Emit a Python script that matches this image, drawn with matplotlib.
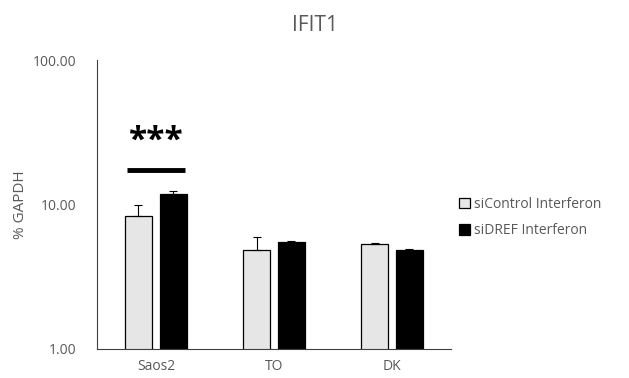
import numpy as np
import matplotlib.pyplot as plt

categories = ["Saos2", "TO", "DK"]
series = ["siControl Interferon", "siDREF Interferon"]
ctrl_vals = [8.3, 4.85, 5.3]
ctrl_err = [1.6, 1.1, 0.1]
dref_vals = [11.8, 5.5, 4.85]
dref_err = [0.6, 0.1, 0.08]
yticks = [1, 10, 100]
ytick_labels = ["1.00", "10.00", "100.00"]

plt.rcParams['font.family'] = ['Open Sans', 'DejaVu Sans']
grey = '#595959'

fig = plt.figure(figsize=(6.29, 3.78), dpi=100)
ax = fig.add_axes([0.154, 0.077, 0.563, 0.764])

x = np.arange(len(categories))
w = 0.23
gap = 0.065
ax.bar(x - (w + gap) / 2, ctrl_vals, w, color='#e7e6e6', edgecolor='black',
       linewidth=0.9, label=series[0])
ax.bar(x + (w + gap) / 2, dref_vals, w, color='black', edgecolor='black',
       linewidth=0.9, label=series[1])
ax.errorbar(x - (w + gap) / 2, ctrl_vals, yerr=[np.zeros(3), ctrl_err],
            fmt='none', ecolor='black', elinewidth=0.8, capsize=3, capthick=0.8)
ax.errorbar(x + (w + gap) / 2, dref_vals, yerr=[np.zeros(3), dref_err],
            fmt='none', ecolor='black', elinewidth=0.8, capsize=3, capthick=0.8)

ax.set_yscale('log')
ax.set_ylim(1, 100)
ax.set_xlim(-0.5, 2.5)
ax.set_yticks(yticks)
ax.set_yticklabels(ytick_labels)
ax.yaxis.set_minor_locator(plt.NullLocator())
ax.set_xticks(x)
ax.set_xticklabels(categories)
ax.tick_params(axis='both', length=0, colors=grey, labelsize=10, pad=7)
ax.tick_params(axis='y', pad=15)

for s in ['top', 'right']:
    ax.spines[s].set_visible(False)
ax.spines['left'].set_color('#404040')
ax.spines['bottom'].set_color('#404040')

# significance marker
ax.plot([-(w + gap) / 2 - w / 2 + 0.02, (w + gap) / 2 + w / 2 - 0.02], [17.3, 17.3],
        color='black', lw=3.5, solid_capstyle='butt')
ax.text(0, 27.5, "***", ha='center', va='center', fontsize=24, fontweight='bold')

ax.set_ylabel("% GAPDH", color=grey, fontsize=11)
ax.yaxis.set_label_coords(-0.195, 0.5)
fig.suptitle("IFIT1", color=grey, fontsize=15, y=0.96)

ax.legend(loc='center left', bbox_to_anchor=(1.0, 0.455), frameon=False,
          fontsize=10, labelcolor=grey, handlelength=0.75, handleheight=0.75,
          handletextpad=0.3, labelspacing=0.85, borderaxespad=0.2)

fig.savefig("out.png", dpi=100)
